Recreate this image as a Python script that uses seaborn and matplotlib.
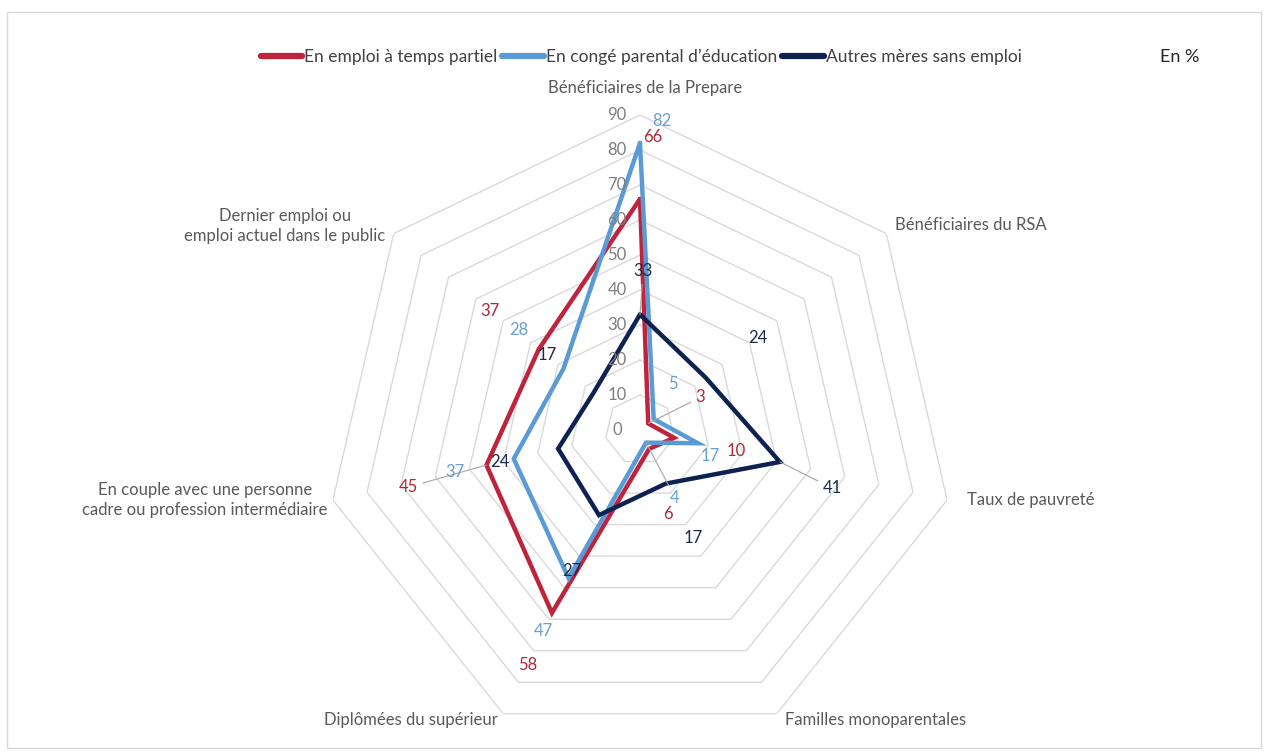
import numpy as np
import pandas as pd
import matplotlib
matplotlib.use("Agg")
import matplotlib.pyplot as plt
import seaborn as sns
from matplotlib.lines import Line2D
from matplotlib.patches import Rectangle

# ---------------- data ----------------
categories = [
    "Bénéficiaires de la Prepare",
    "Bénéficiaires du RSA",
    "Taux de pauvreté",
    "Familles monoparentales",
    "Diplômées du supérieur",
    "En couple avec une personne\ncadre ou profession intermédiaire",
    "Dernier emploi ou\nemploi actuel dans le public",
]
series_names = ["En emploi à temps partiel", "En congé parental d\u2019éducation", "Autres mères sans emploi"]
partiel = [66, 3, 10, 6, 58, 45, 37]
conge = [82, 5, 17, 4, 47, 37, 28]
autres = [33, 24, 41, 17, 27, 24, 17]
r_ticks = [0, 10, 20, 30, 40, 50, 60, 70, 80, 90]
unit_label = "En %"

# ---------------- styles ----------------
line_colors = ["#C0243C", "#5B9BD5", "#0E2251"]
label_colors = ["#B0283A", "#6A9FD2", "#1F2A48"]
grid_color = "#D9D9D9"
text_gray = "#595959"

# data-label offsets in screen pixels (x right, y down) per series, per axis
label_offsets = [
    [(13, -62), (52, -26), (62, 13), (19, 65), (-24, 52), (-78, 22), (-49, -38)],
    [(22, -22), (19, -35), (12, 13), (29, 55), (-25, 53), (-59, 13), (-45, -39)],
    [(3, -43), (52, -40), (52, 26), (27, 54), (-27, 56), (-58, 13), (-46, -38)],
]
leaders = [
    [False, True, False, False, False, True, False],
    [False, False, False, True, False, False, False],
    [True, False, True, False, False, False, False],
]
cat_offsets = [(5, -27), (85, -9), (84, 0), (99, 6), (-92, 6), (-128, 0), (-109, -8)]

sns.set_theme(style="white")
plt.rcParams["font.family"] = ["Lato", "DejaVu Sans"]

W, H = 1268, 755
fig = plt.figure(figsize=(W / 100, H / 100), dpi=100)
fig.patch.set_facecolor("white")

cx, cy, R = 640, 430, 315
ax = fig.add_axes([(cx - R) / W, (H - cy - R) / H, 2 * R / W, 2 * R / H], projection="polar")
ax.set_theta_zero_location("N")
ax.set_theta_direction(-1)
ax.set_facecolor("none")
ax.grid(False)
ax.spines["polar"].set_visible(False)

n = len(categories)
angles = np.arange(n) * 2 * np.pi / n
closed = np.append(angles, angles[0])

# heptagonal grid rings
for r in r_ticks[1:]:
    ax.plot(closed, [r] * (n + 1), color=grid_color, lw=1.0, zorder=1)

# data frame for seaborn
rows = []
for name, vals in zip(series_names, [partiel, conge, autres]):
    for i in range(n + 1):
        rows.append({"series": name, "theta": closed[i], "value": vals[i % n], "order": i})
df = pd.DataFrame(rows)

sns.lineplot(data=df, x="theta", y="value", hue="series", hue_order=series_names,
             palette=line_colors, sort=False, estimator=None, lw=3.2, legend=False,
             ax=ax, zorder=3, solid_joinstyle="miter")

ax.set_ylim(0, 90)
ax.set_xticks([])
ax.set_yticks([])
ax.set_xlabel("")
ax.set_ylabel("")

# radial tick labels
for r in r_ticks:
    ax.annotate(str(r), xy=(0, r), xytext=(-23, 0), textcoords="offset pixels",
                ha="center", va="center", fontsize=12, color="#7F7F7F", zorder=4,
                annotation_clip=False)

# data labels
for s, vals in enumerate([partiel, conge, autres]):
    for i, v in enumerate(vals):
        kw = {}
        if leaders[s][i]:
            kw["arrowprops"] = dict(arrowstyle="-", color="#A6A6A6", lw=0.8,
                                    shrinkA=1, shrinkB=0)
        dx, dy = label_offsets[s][i]
        ax.annotate(str(v), xy=(angles[i], v), xytext=(dx, -dy),
                    textcoords="offset pixels", ha="center", va="center",
                    fontsize=12, color=label_colors[s], zorder=5,
                    annotation_clip=False, **kw)

# category labels
for i, cat in enumerate(categories):
    dx, dy = cat_offsets[i]
    ax.annotate(cat, xy=(angles[i], 90), xytext=(dx, -dy), textcoords="offset pixels",
                ha="center", va="center", fontsize=12, color=text_gray,
                linespacing=1.3, annotation_clip=False)

# legend
handles = [Line2D([0], [0], color=c, lw=4.5) for c in line_colors]
fig.legend(handles, series_names, loc="center", bbox_to_anchor=(641 / W, 1 - 57 / H),
           ncol=3, frameon=False, fontsize=12.5, handlelength=2.4, handletextpad=0.1,
           columnspacing=0.3, labelcolor="#404040")

fig.text(1180 / W, 1 - 57 / H, unit_label, ha="center", va="center", fontsize=13, color="#262626")

# outer frame
fig.patches.append(Rectangle((7 / W, 1 - 748 / H), (1261 - 7) / W, (748 - 12) / H,
                             transform=fig.transFigure, fill=False, edgecolor=grid_color, lw=1))

fig.savefig("out.png", dpi=100, facecolor="white")
